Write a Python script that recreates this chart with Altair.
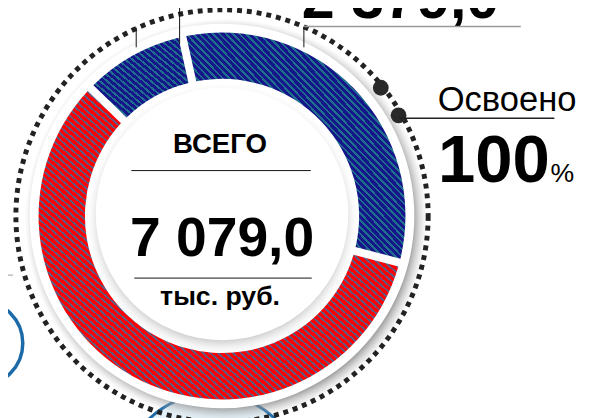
import math
import altair as alt
import pandas as pd

# ---------------- data ----------------
segments = ["small", "big", "main"]          # small blue, large blue, red
values = [655.0, 2305.0, 4119.0]
seg_base = ["#141689", "#141689", "#ff0000"]
seg_stripe = ["#1f6e8e", "#1f6e8e", "#67557c"]
seg_periods = [26, 66, 95]

total_title = "ВСЕГО"
total_value = "7 079,0"
total_unit = "тыс. руб."
top_value = "2 379,0"
done_title = "Освоено"
done_value = "100"
done_unit = "%"

# ---------------- layout ----------------
W, H = 582, 410
CX, CY = 217, 208
R_OUT, R_IN = 186, 139
FONT = "Liberation Sans Narrow, Arial Narrow, Liberation Sans, Arial, sans-serif"
START = math.radians(-45.8)

df = pd.DataFrame({"segment": segments, "value": values})
df["end"] = df["value"].cumsum()
df["start"] = df["end"] - df["value"]
TOTAL = float(df["value"].sum())

one = pd.DataFrame({"k": [0]})


def stripes(base, stripe, n, frac=0.38):
    stops = []
    for k in range(n):
        a = k / n
        b = (k + 1 - frac) / n
        c = (k + 1) / n
        stops += [{"offset": a, "color": base}, {"offset": b, "color": base},
                  {"offset": b, "color": stripe}, {"offset": c, "color": stripe}]
    return {"gradient": "linear", "x1": 0, "y1": 1, "x2": 1, "y2": 0, "stops": stops}


def disk(x, y, r, **kw):
    return alt.Chart(one).mark_circle(size=(2 * r) ** 2, opacity=1, **kw).encode(
        x=alt.value(x), y=alt.value(y))


def ring(x, y, r, **kw):
    return alt.Chart(one).mark_point(shape="circle", size=(2 * r) ** 2, filled=False,
                                     opacity=1, **kw).encode(x=alt.value(x), y=alt.value(y))


def rule(x1, x2, y1, y2, color, w):
    return alt.Chart(one).mark_rule(color=color, strokeWidth=w).encode(
        x=alt.value(x1), x2=alt.value(x2), y=alt.value(y1), y2=alt.value(y2))


def text(t, x, y, size, bold=True, align="center", color="#000000"):
    return alt.Chart(pd.DataFrame({"t": [t]})).mark_text(
        font=FONT, fontSize=size, fontWeight="bold" if bold else "normal",
        align=align, baseline="alphabetic", color=color).encode(
        text="t:N", x=alt.value(x), y=alt.value(y))


layers = []
# decorations from neighbouring elements
layers.append(disk(207, 480, 92, fill="#e4f1f8", stroke="#1c6aa8", strokeWidth=3))
layers.append(ring(-28, 337, 43, stroke="#1c6aa8", strokeWidth=3.5))
layers.append(rule(-8, 5, 268, 268, "#bdbdbd", 1.5))

# outer shadow + white ring
shadow_out = {"gradient": "radial", "x1": 0.5, "y1": 0.5, "r1": 0.46, "x2": 0.5, "y2": 0.5, "r2": 0.5,
              "stops": [{"offset": 0, "color": "rgba(120,120,120,0.85)"},
                        {"offset": 1, "color": "rgba(200,200,200,0)"}]}
layers.append(disk(CX + 4, CY + 4, 204, fill=shadow_out))
layers.append(disk(CX, CY, 195, fill="#ffffff"))
# dotted circle
layers.append(ring(CX, CY, 209, stroke="#222222", strokeWidth=5, strokeDash=[5, 5]))

# donut arcs
theta_scale = alt.Scale(domain=[0, TOTAL], range=[START, START + 2 * math.pi])
for seg, base, stripe, n in zip(segments, seg_base, seg_stripe, seg_periods):
    layers.append(
        alt.Chart(df).transform_filter(alt.datum.segment == seg)
        .mark_arc(innerRadius=R_IN, outerRadius=R_OUT, padAngle=0.035, fill=stripes(base, stripe, n))
        .encode(theta=alt.Theta("start:Q", scale=theta_scale), theta2="end:Q",
                x=alt.value(CX), y=alt.value(CY))
    )

# inner disk with shadow
shadow_in = {"gradient": "radial", "x1": 0.5, "y1": 0.5, "r1": 0.43, "x2": 0.5, "y2": 0.5, "r2": 0.5,
             "stops": [{"offset": 0, "color": "rgba(150,150,150,0.75)"},
                       {"offset": 1, "color": "rgba(230,230,230,0)"}]}
layers.append(disk(CX, CY + 3, 137, fill=shadow_in))
layers.append(disk(CX, CY - 2, 128, fill="#ffffff"))

# centre texts
layers.append(text(total_title, 215, 144, 28))
layers.append(rule(125, 307, 162, 162, "#111111", 1))
layers.append(text(total_value, 217, 249, 56))
layers.append(rule(128, 308, 271, 271, "#111111", 1))
layers.append(text(total_unit, 215, 298, 27))

# top callout
layers.append(text(top_value, 398, 7, 60))
layers.append(rule(300, 520, 16, 16, "#9a9a9a", 1.5))
layers.append(rule(300, 300, 16, 37, "#111111", 1))
layers.append(rule(174, 174, -8, 34, "#111111", 1))
layers.append(rule(130, 130, 17, 37, "#111111", 1))

# right callout
layers.append(disk(378, 78, 8, fill="#2a2a2a"))
layers.append(disk(396, 106, 8, fill="#2a2a2a"))
layers.append(rule(397, 554, 109, 109, "#222222", 1.5))
layers.append(text(done_title, 506, 102, 35, bold=False))
layers.append(text(done_value, 436, 174, 68, align="left"))
layers.append(text(done_unit, 550, 174, 27, bold=False, align="left"))

chart = alt.layer(*layers).properties(
    width=W, height=H, padding=0, autosize=alt.AutoSizeParams(type="none"),
    background="#ffffff"
).configure_view(stroke=None)

chart.save("out.html", embed_options={"renderer": "svg", "actions": False})
